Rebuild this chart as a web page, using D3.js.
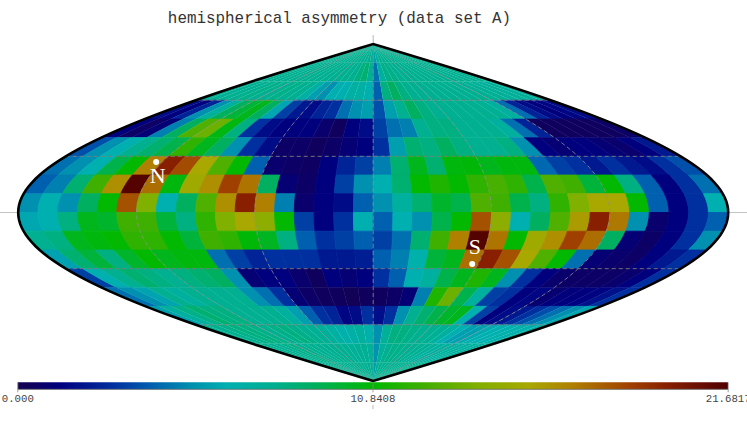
<!DOCTYPE html>
<html><head><meta charset="utf-8">
<script src="https://cdn.jsdelivr.net/npm/d3@7"></script>
<style>html,body{margin:0;padding:0;background:#fff;overflow:hidden}svg{display:block}</style>
</head><body><svg id="c" width="747" height="421"></svg>
<script>
// one array per 10-degree latitude band, north to south; 36 values west to east
const band00=[7.8,7.8,7.8,7.8,7.8,7.8,7.8,7.8,7.8,7.8,7.8,7.8,7.8,7.8,7.8,7.8,7.8,7.6,5.8,7.4,7.8,7.8,7.8,7.8,7.8,7.8,7.8,7.8,7.8,7.8,7.8,7.8,7.8,7.8,7.8,7.8];
const band01=[7.8,7.8,7.8,7.8,7.8,7.8,7.8,7.8,7.8,7.8,7.8,7.8,7.8,7.8,7.8,8.2,8.6,7.6,4.5,7.2,8,8,7.8,7.8,7.8,7.8,7.8,7.8,7.8,7.8,7.8,7.8,7.8,7.8,7.8,7.8];
const band02=[7.8,7.6,7.8,7.8,8,7.8,7.8,8,7.8,7.8,7,5.8,5.3,6.4,6.4,7,7,6.4,4.1,8.2,9,8.2,7.8,7.8,7.8,7.8,7.8,7.8,7.8,7.8,7.6,7.6,7.4,7.4,7.4,7.2];
const band03=[1.7,1.3,2.5,5.3,7.2,9,9.7,10.3,9,6.1,3.3,2.1,1.7,2.5,2.9,4.5,5.3,5.8,3.7,5.8,7.8,9,8.2,7.8,7.8,7.8,7.8,7.8,7.6,7.2,4.5,2.5,1.7,1.3,1.5,1.7];
const band04=[1.3,0.6,1,4.9,9,12.8,13.5,10.5,8.2,2.9,1.7,1.3,1.3,1.3,0.8,0.4,1.3,1.7,3.3,4.5,4.9,7.8,8.2,8.2,7.8,7.8,7.8,7.2,4.5,2.5,0.4,0.4,0.4,0.4,0.4,0.6];
const band05=[3.7,5.3,6.4,7.8,8.6,9.4,12,10.3,9,5.3,2.9,1.7,0.6,0.6,0.4,0.6,1,1.3,2.9,5.8,8.6,8.2,9,8.2,7.8,7.8,8.2,5.3,1.3,1,1.3,1.3,1,0.8,1.3,2.1];
const band06=[4.5,5.3,6.4,9.4,10.9,16.9,19.8,18.4,15.6,12.8,10.9,4.1,0.8,0.6,0.5,1.3,2.5,3.3,4.9,8.6,10.3,8.6,10.6,10.7,10.3,10.6,10.6,4.3,3.3,2.9,2.1,2.9,2.1,1.7,2.9,3.7];
const band07=[4.1,4.9,8.6,12.4,16.4,21.5,17.4,10.6,15.2,16.4,18.7,17.2,9,1,0.6,1.3,3.3,5.3,6.4,8.6,10.9,11.6,10.9,12,12.6,12,9.4,12.8,12.4,9.7,10.9,8.2,4.1,1.3,2.9,4.5];
const band08=[5.3,6.4,5.3,9,10.9,18.2,14,6.4,9,12.8,16.4,19.8,16.9,4.9,0.8,1.3,1.7,4.1,5.3,7.2,8.6,10,9.4,12.8,12.4,9.4,8.2,12,14,15.6,15.6,10.9,4.1,1.3,2.9,6.4];
const band09=[6.1,6.4,8.2,10.3,10,12.4,12.4,9.7,8.2,12,14,15.6,14.5,10.9,3.3,1.3,2.9,6.4,4.1,6.4,5.3,9.4,10.9,18.2,14.5,6.4,9,12.8,16,19.8,17.1,5.3,0.8,1.3,2.9,4.1];
const band10=[7.8,8.2,10.3,10.6,10.9,12,12,10.9,9.7,12.4,12,10.7,10.2,8.2,4.1,2.9,3.3,4.1,3.3,4.5,8.6,12.4,16.9,21.5,17.2,10.9,15.2,16.4,18.7,17.4,9,1,0.6,1.3,2.9,5.3];
const band11=[5.9,8.6,9.7,8.2,10,10.9,10.3,10.6,10.6,4.5,3.3,2.5,2.9,2.9,2.9,2.1,2.1,2.3,4.1,4.9,6.6,9.7,10.3,17.4,19.8,18.2,15.6,12.8,10.9,4.5,1,0.8,0.6,1.3,2.1,2.9];
const band12=[3.3,6.4,7.8,8.6,8.2,7.8,8.2,8.6,9,5.3,1,1.3,1.3,0.8,0.4,1.3,1,1.3,2.9,4.1,6.4,7.2,9.4,10.3,11.6,10.3,5.3,2.9,1.3,0.8,0.6,0.6,0.6,0.8,1.3,2.9];
const band13=[4.5,5.3,6,7.8,7.2,7.8,7.8,7.8,7.8,5.3,4.5,2.9,1,0.6,0.4,0.4,0.2,0.4,0.4,0.6,1,4.9,11.6,13.5,9.4,7.2,3.3,2.9,1.3,1.5,0.9,1.2,1.3,1.4,1.9,2.9];
const band14=[5.8,7.2,8,8.6,8.2,8.2,7.8,7.8,7.8,7.8,7.2,5.8,4.1,2.9,2.5,1.5,1.7,2.9,1.8,2.9,5.3,7.8,8.6,9.4,10,10.3,6.4,3.3,1.3,1.7,2.1,2.9,3.7,4.5,5.3,6.1];
const band15=[7.8,7.8,8,8.2,8.2,8,7.8,8,8.2,8,7.8,7.6,7.4,7,6.6,6.8,7.2,6.6,5.3,7.4,8.2,8.2,8,7.8,7.8,7.6,7.2,6.4,5.8,5.8,6.2,6.4,6.4,6.6,6.6,6.8];
const band16=[7.8,7.8,7.8,7.8,8,8,7.8,7.8,7.8,7.8,7.8,7.8,7.8,7.6,7.4,7.6,7.6,7.4,5.4,7.4,7.8,8,8,7.8,7.8,7.8,7.6,7.4,7.2,7.2,7.2,7.2,7.2,7.2,7.2,7.2];
const band17=[7.8,7.8,7.8,7.8,7.8,7.8,7.8,7.8,7.8,7.8,7.8,7.8,7.8,7.8,7.8,7.8,7.8,7.6,5.8,7.6,7.8,7.8,7.8,7.8,7.8,7.8,7.8,7.8,7.8,7.8,7.8,7.8,7.8,7.8,7.8,7.8];
const bands=[band00,band01,band02,band03,band04,band05,band06,band07,band08,band09,band10,band11,band12,band13,band14,band15,band16,band17];

const colorStops=[0,1.3,2.9,4.1,5.3,6.4,7.8,9,10.84,12.4,14,15.6,16.9,18.7,19.8,21.6817];
const colorValues=["#170050","#00007f","#0030a0","#0060b0","#0090b0","#00b0b0","#00b090","#00b060","#00b800","#40b000","#80b000","#a8a800","#b08000","#a04000","#882000","#500000"];
const tickValues=[0,10.8408,21.6817];
const tickLabels=["0.000","10.8408","21.6817"];
const titleText="hemispherical asymmetry (data set A)";
const meridians=[-120,-60,0,60,120];
const parallels=[-60,-30,30,60];
const poleMarks=[{name:"N",lon:-123.5,lat:27,dx:1.5,base:183},{name:"S",lon:56.6,lat:-27.5,dx:2.7,base:254}];

const svg=d3.select("#c");
const x=d3.scaleLinear().domain([-180,180]).range([18.2,728.2]);
const y=d3.scaleLinear().domain([90,-90]).range([44,381]);
const col=d3.scaleLinear().domain(colorStops).range(colorValues);
const rad=Math.PI/180;
const pt=(lon,lat)=>[x(lon*Math.cos(lat*rad)),y(lat)];
const line=d3.line();
const lats=d3.range(0,10.01,2.5);

// cells
bands.forEach((vals,r)=>{
  const top=90-r*10;
  const sw=Math.max(0.15,0.9*Math.cos((top-5)*rad)*Math.cos((top-5)*rad));
  vals.forEach((v,c)=>{
    const w=-180+c*10;
    const poly=[...lats.map(t=>pt(w,top-t)),...lats.slice().reverse().map(t=>pt(w+10,top-t))];
    svg.append("path").attr("d",line(poly)+"Z").attr("fill",col(v)).attr("stroke",col(v)).attr("stroke-width",sw).attr("stroke-linejoin","round");
  });
});

// graticule
const ll=d3.range(-90,90.01,2);
meridians.forEach(m=>svg.append("path").attr("d",line(ll.map(l=>pt(m,l)))).attr("fill","none").attr("stroke","#8e8e8e").attr("stroke-width",0.8).attr("stroke-dasharray","4 3"));
parallels.forEach(p=>svg.append("path").attr("d",line([pt(-180,p),pt(180,p)])).attr("fill","none").attr("stroke","#7c7c7c").attr("stroke-width",0.9).attr("stroke-dasharray","4 3"));

// axes beyond the map
svg.append("line").attr("x1",0).attr("x2",747).attr("y1",y(0)).attr("y2",y(0)).attr("stroke","#c4c4c4").attr("stroke-width",1).lower();
svg.append("line").attr("x1",x(0)).attr("x2",x(0)).attr("y1",35).attr("y2",y(90)).attr("stroke","#b8b8b8").attr("stroke-width",1);

// outline
const edge=[...ll.map(l=>pt(-180,l)),...ll.slice().reverse().map(l=>pt(180,l))];
svg.append("path").attr("d",line(edge)+"Z").attr("fill","none").attr("stroke","#000").attr("stroke-width",2.6).attr("stroke-linejoin","miter");

// poles
poleMarks.forEach(p=>{
  const [px,py]=pt(p.lon,p.lat);
  svg.append("circle").attr("cx",px).attr("cy",py).attr("r",3).attr("fill","#fff");
  svg.append("text").attr("x",px+p.dx).attr("y",p.base).attr("text-anchor","middle")
    .attr("font-family","Liberation Serif").attr("font-size",22).attr("fill","#fff").text(p.name);
});

// colour bar
const barY=382.3, barH=7;
const bx=d3.scaleLinear().domain([0,21.6817]).range([17.8,728.2]);
d3.range(0,710).forEach(i=>{
  svg.append("rect").attr("x",17.8+i).attr("y",barY).attr("width",1.2).attr("height",barH).attr("fill",col(bx.invert(17.8+i+0.5)));
});
svg.append("line").attr("x1",17.8).attr("x2",728.2).attr("y1",barY+barH).attr("y2",barY+barH).attr("stroke","#666").attr("stroke-width",0.8);
tickValues.forEach((t,i)=>{
  svg.append("line").attr("x1",bx(t)).attr("x2",bx(t)).attr("y1",barY).attr("y2",barY+10).attr("stroke","#888").attr("stroke-width",0.8);
  svg.append("text").attr("x",bx(t)).attr("y",402).attr("text-anchor","middle").attr("font-family","Liberation Mono").attr("font-size",10.7).attr("fill","#444").text(tickLabels[i]);
});
svg.append("line").attr("x1",bx(10.8408)).attr("x2",bx(10.8408)).attr("y1",405).attr("y2",409).attr("stroke","#aaa").attr("stroke-width",0.8);

// title
svg.append("text").attr("x",339.5).attr("y",23).attr("text-anchor","middle").attr("font-family","Liberation Mono").attr("font-size",15.9).attr("fill","#333").text(titleText);
</script></body></html>
